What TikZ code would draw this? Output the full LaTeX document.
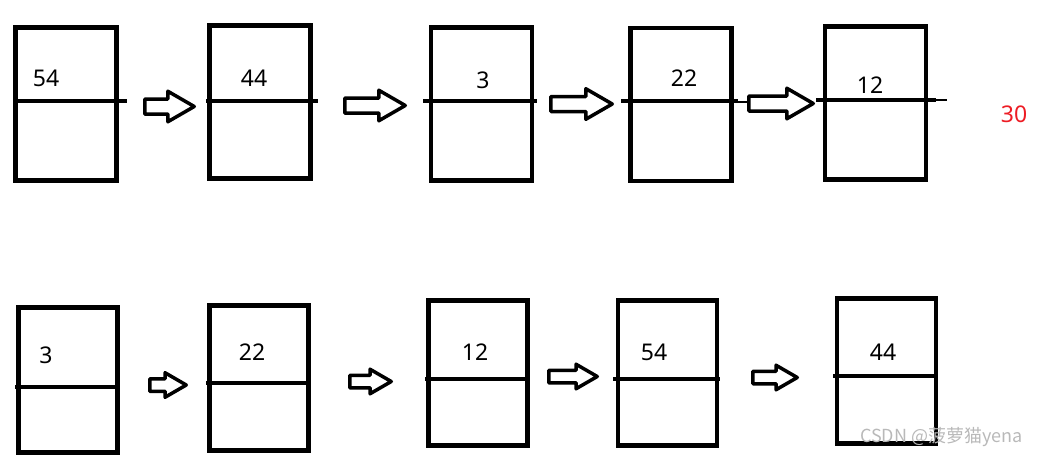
\documentclass[tikz,border=0pt]{standalone}
\usepackage{fontspec}
\setmainfont{Noto Sans}
\newfontfamily\cjk{Noto Sans CJK SC}
\usetikzlibrary{shapes.arrows}
\definecolor{numred}{RGB}{237,28,36}

\begin{document}
\begin{tikzpicture}[
x=1pt, y=-1pt,
topcell/.style={rectangle, draw=black, line width=4.5pt, minimum width=101pt, minimum height=153pt, inner sep=0pt},
botcell/.style={rectangle, draw=black, line width=4.5pt, minimum width=99pt, minimum height=145pt, inner sep=0pt},
divider/.style={draw=black, line width=4.5pt},
num/.style={font=\fontsize{23}{27}\selectfont, inner sep=0pt},
toparrow/.style={single arrow, draw=black, line width=3.5pt, line join=round, anchor=tail, inner sep=0pt, text height=11.5pt, text depth=0pt, minimum width=27pt, single arrow head extend=7.75pt, single arrow tip angle=60},
botarrow/.style={single arrow, draw=black, line width=3.5pt, line join=round, anchor=tail, inner sep=0pt, text height=9pt, text depth=0pt, minimum width=21pt, single arrow head extend=6pt, single arrow tip angle=60},
]
\useasboundingbox (0,0) rectangle (1038,456);

\node[topcell] (b1) at (66,104) {};
\node[topcell] (b2) at (260,102) {};
\node[topcell] (b3) at (481.5,104) {};
\node[topcell] (b4) at (681,104.5) {};
\node[topcell] (b5) at (875.5,103) {};
\draw[divider] (14,101) -- (127,101);
\draw[divider] (206,101) -- (318,101);
\draw[divider] (423,101) -- (537,101);
\draw[divider] (621,101) -- (738,101);
\draw[divider] (816,100) -- (936,100);
\draw[line width=1.2pt] (738,102) -- (747,102);
\draw[line width=1.2pt] (936,100) -- (947,100);

\node[toparrow, minimum height=49.5pt] (a1) at (143,106.5) {};
\node[toparrow, minimum height=60.5pt] (a2) at (343,105.5) {};
\node[toparrow, minimum height=61.5pt] (a3) at (549,104) {};
\node[toparrow, minimum height=64.5pt] (a4) at (747,103.5) {};

\node[num] (t1) at (46,78) {54};
\node[num] (t2) at (254,78) {44};
\node[num] (t3) at (483,80) {3};
\node[num] (t4) at (684,78) {22};
\node[num] (t5) at (870,85) {12};
\node[num, text=numred] (new) at (1014,114) {30};

\node[botcell] (c1) at (68,380) {};
\node[botcell] (c2) at (259,378) {};
\node[botcell] (c3) at (478,373) {};
\node[botcell] (c4) at (667.5,373) {};
\node[botcell] (c5) at (886.5,371) {};
\draw[divider] (15,387) -- (119,387);
\draw[divider] (206,383) -- (311,383);
\draw[divider] (425,379) -- (529,379);
\draw[divider] (613,379) -- (720,379);
\draw[divider] (833,376) -- (938,376);

\node[botarrow, minimum height=36.5pt] (d1) at (148,385) {};
\node[botarrow, minimum height=41.5pt] (d2) at (348,381.5) {};
\node[botarrow, minimum height=48.5pt] (d3) at (547,376.5) {};
\node[botarrow, minimum height=44.5pt] (d4) at (751,377.5) {};

\node[num] (s1) at (46,355) {3};
\node[num] (s2) at (252,352) {22};
\node[num] (s3) at (475,352) {12};
\node[num] (s4) at (654,352) {54};
\node[num] (s5) at (883,352) {44};

\node[font=\cjk\fontsize{18}{20}\selectfont, text=gray!55, anchor=east, inner sep=0pt] (mark) at (1023,437) {CSDN @菠萝猫yena};
\end{tikzpicture}
\end{document}
